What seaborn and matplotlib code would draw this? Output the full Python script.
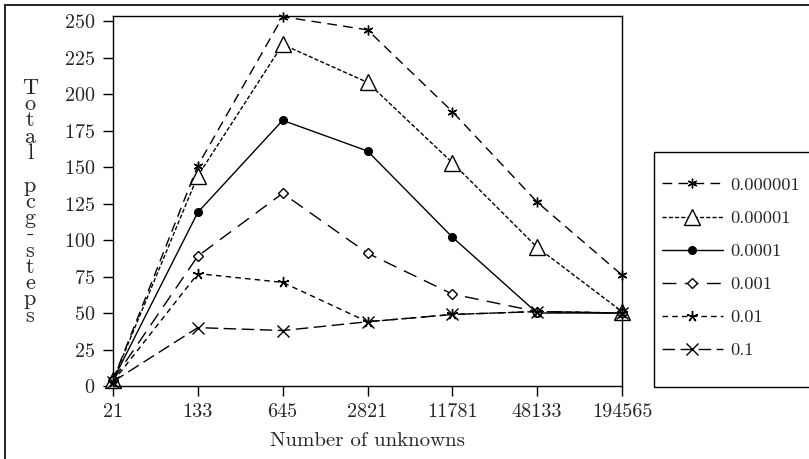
import matplotlib.pyplot as plt
import seaborn as sns
import pandas as pd
from matplotlib.lines import Line2D
from matplotlib.patches import Rectangle

# tamanhos do problema (eixo x categórico)
unknowns = ["21", "133", "645", "2821", "11781", "48133", "194565"]

# passos pcg totais por tolerância
tol_labels = ["0.000001", "0.00001", "0.0001", "0.001", "0.01", "0.1"]
steps_1e6 = [4, 151, 253, 244, 188, 126, 76]
steps_1e5 = [4, 144, 234, 208, 153, 95, 51]
steps_1e4 = [4, 119, 182, 161, 102, 50, 50]
steps_1e3 = [4, 89, 132, 91, 63, 51, 50]
steps_1e2 = [3, 77, 71, 44, 49, 51, 50]
steps_1e1 = [3, 40, 38, 44, 49, 51, 50]
y_ticks = [0, 25, 50, 75, 100, 125, 150, 175, 200, 225, 250]

series = [steps_1e6, steps_1e5, steps_1e4, steps_1e3, steps_1e2, steps_1e1]

# estilo de cada curva: (tracejado, marcador, tamanho, preenchido)
estilos = [
    ((7, 4.5), (6, 2, 0), 7, True),
    ((3, 1.5), "^", 12, False),
    (None, "o", 5.5, True),
    ((10, 6), "D", 5, False),
    ((4, 3), (5, 2, 0), 8, True),
    ((9, 4), "x", 9, True),
]

sns.set_theme(style="ticks")
plt.rcParams["font.family"] = ["cmr10", "DejaVu Serif"]
plt.rcParams["axes.unicode_minus"] = False
plt.rcParams["axes.formatter.use_mathtext"] = True

W, H = 809, 459
fig = plt.figure(figsize=(W / 100, H / 100), dpi=100)
ax = fig.add_axes([113 / W, 1 - 386 / H, (622 - 113) / W, (386 - 16) / H])

pos = list(range(len(unknowns)))
for lab, vals, (dash, mk, ms, filled) in zip(tol_labels, series, estilos):
    df = pd.DataFrame({"pos": pos, "steps": vals})
    kw = dict(color="black", linewidth=1.0, marker=mk, markersize=ms,
              markeredgecolor="black", markeredgewidth=1.0,
              markerfacecolor="black" if filled else "white", clip_on=False)
    sns.lineplot(data=df, x="pos", y="steps", ax=ax, label=lab, **kw)
    if dash is not None:
        ax.lines[-1].set_dashes(dash)

ax.set_xlim(0, 6)
ax.set_ylim(0, 253.5)
ax.set_xticks(pos)
ax.set_xticklabels(unknowns)
ax.set_yticks(y_ticks)
ax.tick_params(axis="both", labelsize=14.5, length=7, width=1, color="black")
ax.tick_params(axis="y", pad=6)
ax.tick_params(axis="x", pad=5.5)
for s in ax.spines.values():
    s.set_linewidth(1.0)
    s.set_color("black")
ax.set_xlabel("Number of unknowns", fontsize=15, labelpad=8)
ax.set_ylabel("")

# rótulo vertical com letras empilhadas
fig.text(30 / W, 1 - 202 / H, "\n".join("Total pcg-steps"), ha="center", va="center",
         multialignment="center", fontsize=16, linespacing=0.79)

# legenda sem moldura + retângulo separado
leg = ax.legend(loc="upper left", bbox_to_anchor=(662 / W, 1 - 177 / H),
                bbox_transform=fig.transFigure, fontsize=13.3,
                handlelength=3.3, handletextpad=0.4, labelspacing=0.93,
                borderpad=0, borderaxespad=0, frameon=False)
fig.add_artist(Rectangle((654 / W, 1 - 387 / H), 170 / W, (387 - 152) / H, fill=False,
                         edgecolor="black", lw=1.0, transform=fig.transFigure, clip_on=False))

# moldura da figura (esquerda e topo)
fig.add_artist(Line2D([5 / W, 5 / W], [0, 1 - 5 / H], color="black", lw=1.2, transform=fig.transFigure))
fig.add_artist(Line2D([5 / W, 1], [1 - 5 / H, 1 - 5 / H], color="black", lw=1.2, transform=fig.transFigure))

fig.savefig("out.png", dpi=100)
